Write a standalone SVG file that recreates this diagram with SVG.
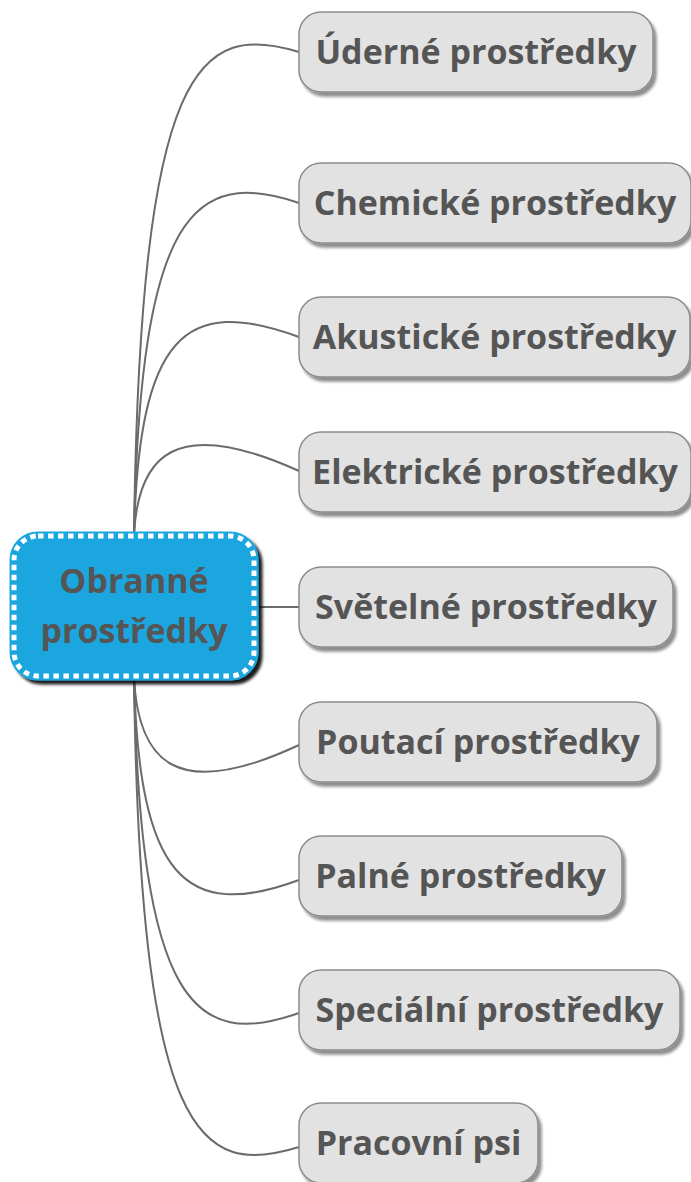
<svg xmlns="http://www.w3.org/2000/svg" width="691" height="1182" viewBox="0 0 691 1182">
<defs>
<filter id="sh" x="-10%" y="-10%" width="130%" height="140%">
<feGaussianBlur in="SourceAlpha" stdDeviation="1.5"/>
<feOffset dx="3" dy="4" result="b"/>
<feComponentTransfer><feFuncA type="linear" slope="0.45"/></feComponentTransfer>
<feMerge><feMergeNode/><feMergeNode in="SourceGraphic"/></feMerge>
</filter>
<filter id="shc" x="-10%" y="-10%" width="130%" height="130%">
<feGaussianBlur in="SourceAlpha" stdDeviation="1.5"/>
<feOffset dx="4" dy="4" result="b"/>
<feComponentTransfer><feFuncA type="linear" slope="0.9"/></feComponentTransfer>
<feMerge><feMergeNode/><feMergeNode in="SourceGraphic"/></feMerge>
</filter>
</defs>
<style>
.lnk{fill:none;stroke:#6b6b6b;stroke-width:2}
.box{fill:#e2e2e2;stroke:#8c8c8c;stroke-width:1.5}
.t{font-family:"Open Sans","DejaVu Sans",sans-serif;font-weight:bold;font-size:34px;fill:#555555;text-anchor:middle}
</style>
<rect width="691" height="1182" fill="#ffffff"/>
<g id="connectors">
<path class="lnk" d="M134,535 C140,60 200,22 299,52"/>
<path class="lnk" d="M134,535 C140,210 195,168 299,203"/>
<path class="lnk" d="M134,535 C139,335 185,295 299,337"/>
<path class="lnk" d="M134,535 C138,455 175,415 299,471"/>
<path class="lnk" d="M255,607 L299,607"/>
<path class="lnk" d="M134,677 C138,761 175,803 299,745"/>
<path class="lnk" d="M134,677 C139,877 185,922 299,880"/>
<path class="lnk" d="M134,677 C140,1005 195,1050 299,1013"/>
<path class="lnk" d="M134,677 C140,1140 200,1178 299,1147"/>
</g>
<g id="center">
<g filter="url(#shc)">
<rect x="14" y="536" width="240" height="140" rx="24" fill="#1ea6df" stroke="#1ea6df" stroke-width="9"/>
</g>
<rect x="14" y="536" width="240" height="140" rx="24" fill="none" stroke="#ffffff" stroke-width="5" stroke-dasharray="5.5 4.5"/>
<text class="t" x="134" y="593">Obranné</text>
<text class="t" x="134" y="643">prostředky</text>
</g>
<g id="n1"><rect class="box" filter="url(#sh)" x="299" y="12" width="354" height="80" rx="22"/><text class="t" x="476" y="64">Úderné prostředky</text></g>
<g id="n2"><rect class="box" filter="url(#sh)" x="299" y="163" width="392" height="80" rx="22"/><text class="t" x="495" y="215">Chemické prostředky</text></g>
<g id="n3"><rect class="box" filter="url(#sh)" x="299" y="297" width="391" height="80" rx="22"/><text class="t" x="494.5" y="349">Akustické prostředky</text></g>
<g id="n4"><rect class="box" filter="url(#sh)" x="299" y="432" width="392" height="80" rx="22"/><text class="t" x="495" y="484">Elektrické prostředky</text></g>
<g id="n5"><rect class="box" filter="url(#sh)" x="299" y="567" width="374" height="80" rx="22"/><text class="t" x="486" y="619">Světelné prostředky</text></g>
<g id="n6"><rect class="box" filter="url(#sh)" x="299" y="702" width="358" height="80" rx="22"/><text class="t" x="478" y="754">Poutací prostředky</text></g>
<g id="n7"><rect class="box" filter="url(#sh)" x="299" y="836" width="323" height="80" rx="22"/><text class="t" x="460.5" y="888">Palné prostředky</text></g>
<g id="n8"><rect class="box" filter="url(#sh)" x="299" y="970" width="381" height="80" rx="22"/><text class="t" x="489.5" y="1022">Speciální prostředky</text></g>
<g id="n9"><rect class="box" filter="url(#sh)" x="299" y="1103" width="239" height="80" rx="22"/><text class="t" x="418.5" y="1155">Pracovní psi</text></g>
</svg>
